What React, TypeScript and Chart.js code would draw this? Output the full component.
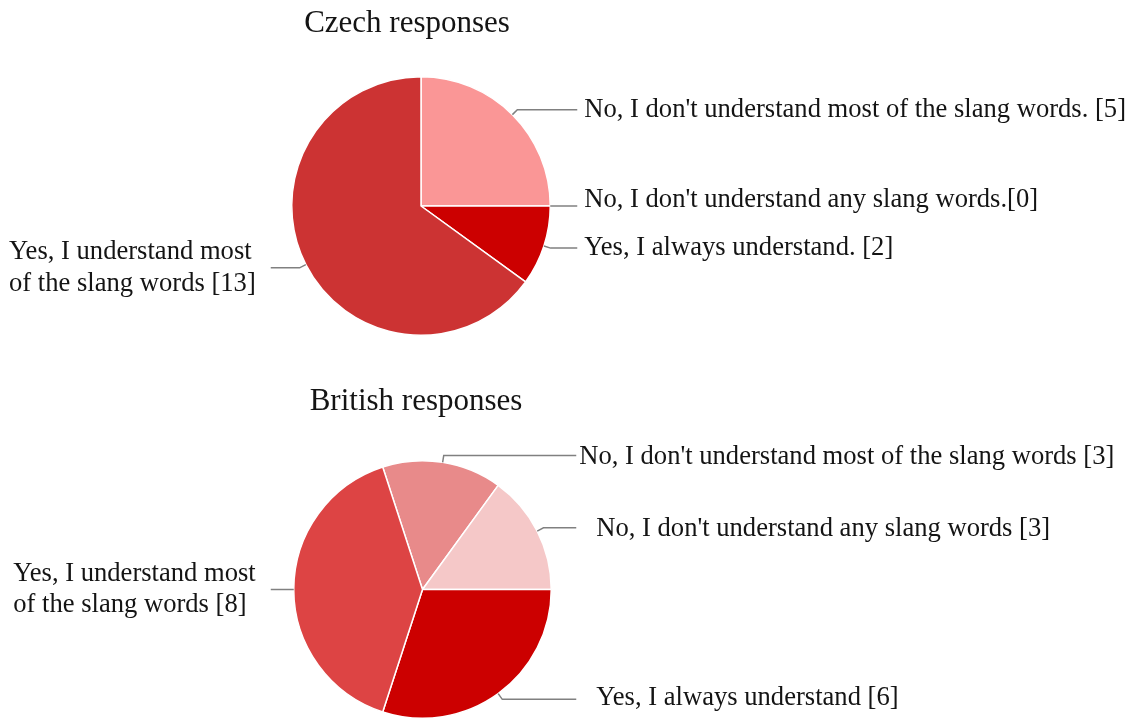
import React, { useEffect, useRef } from "react";
import { Chart, registerables } from "chart.js";

Chart.register(...registerables);

// ---- Data ----
const categories = [
  "No, I don't understand most of the slang words",
  "No, I don't understand any slang words",
  "Yes, I always understand",
  "Yes, I understand most of the slang words",
];

const czechLabelText = [
  "No, I don't understand most of the slang words.",
  "No, I don't understand any slang words.",
  "Yes, I always understand.",
  "Yes, I understand most\nof the slang words",
];
const czechLabelSep = [" ", "", " ", " "];
const czechValues = [5, 0, 2, 13];
const czechColors = ["#fa9696", "#e07070", "#cc0000", "#cc3333"];

const britishLabelText = [
  "No, I don't understand most of the slang words",
  "No, I don't understand any slang words",
  "Yes, I always understand",
  "Yes, I understand most\nof the slang words",
];
const britishLabelSep = [" ", " ", " ", " "];
const britishValues = [3, 3, 6, 8];
const britishColors = ["#e88a8a", "#f5c8c8", "#cc0000", "#dd4444"];

const FONT = '"Liberation Serif", "Times New Roman", serif';

const pieLabelsPlugin = {
  id: "pieLabels",
  afterDraw(chart: any, _args: any, opts: any) {
    const ctx = chart.ctx as CanvasRenderingContext2D;
    const meta = chart.getDatasetMeta(0);
    const values = chart.data.datasets[0].data as number[];
    ctx.save();
    // title
    ctx.fillStyle = "#141414";
    ctx.font = `${opts.titleSize}px ${FONT}`;
    ctx.textAlign = "center";
    ctx.textBaseline = "alphabetic";
    ctx.fillText(opts.title, opts.titleX, opts.titleY);

    ctx.font = `${opts.labelSize}px ${FONT}`;
    meta.data.forEach((arc: any, i: number) => {
      const p = arc.getProps(["x", "y", "startAngle", "endAngle", "outerRadius"], true);
      const mid = (p.startAngle + p.endAngle) / 2;
      const cx = p.x, cy = p.y, r = p.outerRadius;
      const px = cx + r * Math.cos(mid);
      const py = cy + r * Math.sin(mid);
      const ex = px + opts.elbow * Math.cos(mid);
      const ey = py + opts.elbow * Math.sin(mid);
      const right = Math.cos(mid) >= -0.01;
      const lineEnd = right ? cx + r + opts.reachRight : cx - r - opts.reachLeft;
      ctx.strokeStyle = "#808080";
      ctx.lineWidth = 1.5;
      ctx.beginPath();
      ctx.moveTo(px, py);
      ctx.lineTo(ex, ey);
      ctx.lineTo(lineEnd, ey);
      ctx.stroke();

      const lines = (opts.labelText[i] as string).split("\n");
      lines[lines.length - 1] += `${opts.labelSep[i]}[${values[i]}]`;
      ctx.fillStyle = "#141414";
      ctx.textBaseline = "middle";
      ctx.textAlign = "left";
      const dy = opts.labelDy ? opts.labelDy[i] : 0;
      const top = ey - ((lines.length - 1) * opts.lineHeight) / 2 + dy;
      let tx: number;
      if (right) {
        tx = lineEnd + opts.gaps[i];
      } else {
        const maxW = Math.max(...lines.map((ln) => ctx.measureText(ln).width));
        tx = lineEnd - opts.gaps[i] - maxW;
      }
      lines.forEach((ln, k) => ctx.fillText(ln, tx, top + k * opts.lineHeight));
    });
    ctx.restore();
  },
};

type PieProps = {
  top: number;
  height: number;
  values: number[];
  colors: string[];
  rotation: number;
  padding: { left: number; right: number; top: number; bottom: number };
  labelOpts: any;
};

function PieChart(props: PieProps) {
  const ref = useRef<HTMLCanvasElement | null>(null);
  useEffect(() => {
    if (!ref.current) return;
    const chart = new Chart(ref.current, {
      type: "pie",
      data: {
        labels: categories,
        datasets: [
          {
            data: props.values,
            backgroundColor: props.colors,
            borderColor: "#ffffff",
            borderWidth: 1.5,
          },
        ],
      },
      options: {
        responsive: false,
        animation: false,
        events: [],
        rotation: props.rotation,
        layout: { padding: props.padding },
        plugins: {
          legend: { display: false },
          tooltip: { enabled: false },
          title: { display: false },
          pieLabels: props.labelOpts,
        } as any,
      },
      plugins: [pieLabelsPlugin],
    });
    return () => chart.destroy();
  }, []);
  return (
    <canvas
      ref={ref}
      width={1142}
      height={props.height}
      style={{ position: "absolute", left: 0, top: props.top, width: 1142, height: props.height }}
    />
  );
}

export default function App() {
  return (
    <div style={{ position: "fixed", left: 0, top: 0, width: 1142, height: 720, background: "#ffffff" }}>
      <PieChart
        top={0}
        height={380}
        values={czechValues}
        colors={czechColors}
        rotation={0}
        padding={{ left: 291, right: 591, top: 76, bottom: 44 }}
        labelOpts={{
          title: "Czech responses",
          titleX: 407,
          titleY: 32,
          titleSize: 31,
          labelSize: 26.6,
          lineHeight: 32,
          elbow: 7,
          reachRight: 27,
          reachLeft: 21,
          labelText: czechLabelText,
          labelSep: czechLabelSep,
          gaps: [7, 7, 7, 15],
          labelDy: [0, -6, 0, 0],
        }}
      />
      <PieChart
        top={380}
        height={340}
        values={britishValues}
        colors={britishColors}
        rotation={-18}
        padding={{ left: 293, right: 590, top: 80, bottom: 1 }}
        labelOpts={{
          title: "British responses",
          titleX: 416,
          titleY: 30,
          titleSize: 31,
          labelSize: 26.6,
          lineHeight: 31,
          elbow: 7,
          reachRight: 25,
          reachLeft: 23,
          labelText: britishLabelText,
          labelSep: britishLabelSep,
          gaps: [3, 20, 20, 15],
          labelDy: [2, 1, -1, 0],
        }}
      />
    </div>
  );
}
